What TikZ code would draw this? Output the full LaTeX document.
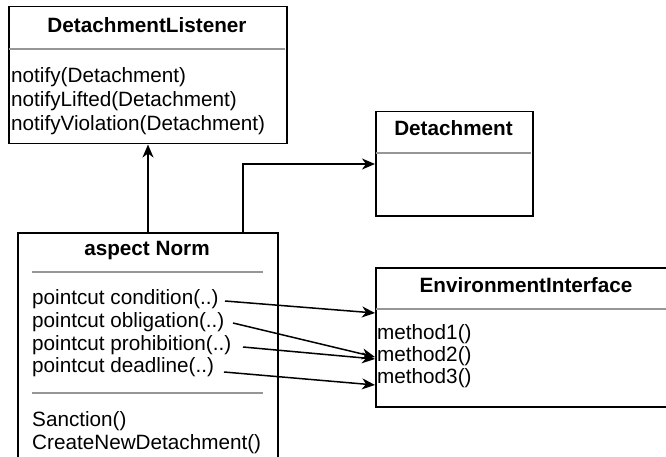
\documentclass[tikz,border=0pt]{standalone}
\usepackage{fontspec}
\setmainfont{Liberation Sans}
\usetikzlibrary{arrows.meta}
\definecolor{sepgray}{RGB}{150,150,150}
\begin{document}
\begin{tikzpicture}[x=1pt,y=-1pt,
  umlbox/.style={draw=black, line width=1.5pt, rectangle, inner sep=0pt, anchor=north west},
  sep/.style={draw=sepgray, line width=1.6pt},
  ttl/.style={font=\fontsize{20.7}{24}\selectfont\bfseries, inner sep=0pt, anchor=base},
  item/.style={font=\fontsize{20.7}{24}\selectfont, inner sep=0pt, anchor=base west},
  conn/.style={line width=1.5pt, -{Stealth[length=13pt,width=11pt,inset=4pt]}},
]
\useasboundingbox (0,0) rectangle (666,457);
\clip (0,0) rectangle (666,457);

% DetachmentListener
\node[umlbox, minimum width=278pt, minimum height=137pt] (dl) at (8,6) {};
\draw[sep] (8.8,49) -- (285.2,49);
\node[ttl] (dlt) at (147,33) {DetachmentListener};
\node[item] (dl1) at (11,83) {notify(Detachment)};
\node[item] (dl2) at (11,107) {notifyLifted(Detachment)};
\node[item] (dl3) at (11,131) {notifyViolation(Detachment)};

% Detachment
\node[umlbox, minimum width=157pt, minimum height=104pt] (det) at (375,111) {};
\draw[sep] (375.8,153) -- (531.2,153);
\node[ttl] (dett) at (453.5,136) {Detachment};

% aspect Norm
\node[umlbox, minimum width=260pt, minimum height=240pt] (norm) at (17,232) {};
\node[ttl] (normt) at (147,255) {aspect Norm};
\draw[sep] (32,272) -- (263,272);
\node[item] (pc1) at (32,304) {pointcut condition(..)};
\node[item] (pc2) at (32,327) {pointcut obligation(..)};
\node[item] (pc3) at (32,350) {pointcut prohibition(..)};
\node[item] (pc4) at (32,372) {pointcut deadline(..)};
\draw[sep] (32,393) -- (263,393);
\node[item] (op1) at (32,426) {Sanction()};
\node[item] (op2) at (32,449) {CreateNewDetachment()};

% EnvironmentInterface
\node[umlbox, minimum width=302pt, minimum height=139pt] (env) at (375,267) {};
\draw[sep] (375.8,309) -- (677,309);
\node[ttl] (envt) at (526,292) {EnvironmentInterface};
\node[item] (m1) at (377,339) {method1()};
\node[item] (m2) at (377,361) {method2()};
\node[item] (m3) at (377,383) {method3()};

% connector end points
\coordinate (nup) at (148,232);
\coordinate (ndet) at (243,232);
\coordinate (bend) at (243,164);
\coordinate (ein) at (375,164);
\coordinate (s1) at (225,301);
\coordinate (s2) at (233,323);
\coordinate (s3) at (243,347);
\coordinate (s4) at (224,372);
\coordinate (e1) at (375,313);
\coordinate (e2) at (375,357);
\coordinate (e3) at (375,359);
\coordinate (e4) at (375,385);

\draw[conn] (nup) -- (nup |- dl.south);
\draw[conn] (ndet) -- (bend) -- (ein);
\draw[conn] (s1) -- (e1);
\draw[conn] (s2) -- (e2);
\draw[conn] (s3) -- (e3);
\draw[conn] (s4) -- (e4);
\end{tikzpicture}
\end{document}
